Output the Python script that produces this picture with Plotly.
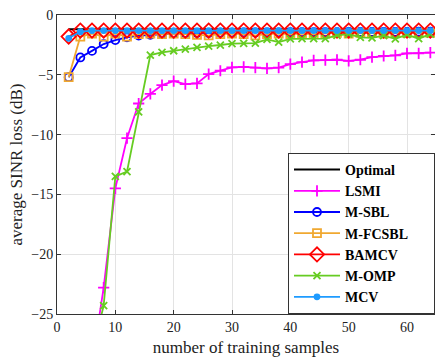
import plotly.graph_objects as go

x = list(range(2, 66, 2))  # 2..64

optimal = [-1.2] * len(x)
lsmi = [-40, -35, -29.2, -22.8, -14.5, -10.3, -7.4, -6.6, -5.86, -5.53, -5.78, -5.72, -4.94, -4.66,
        -4.38, -4.33, -4.4, -4.47, -4.4, -4.1, -3.94, -3.8, -3.77, -3.74, -3.83, -3.74, -3.52,
        -3.43, -3.38, -3.21, -3.21, -3.15]
msbl = [-5.2, -3.55, -3.0, -2.43, -2.1, -1.87, -1.72, -1.65, -1.6, -1.55, -1.52, -1.5, -1.5, -1.48,
        -1.47, -1.46, -1.46, -1.45, -1.45, -1.44, -1.44, -1.43, -1.43, -1.43, -1.42, -1.42, -1.42,
        -1.41, -1.41, -1.41, -1.4, -1.4]
mfcsbl = [-5.2, -1.8, -1.55, -1.8, -1.55, -1.8, -1.6, -1.55, -1.6, -1.55, -1.6, -1.65, -1.7, -1.6,
          -1.55, -1.6, -1.7, -1.6, -1.55, -1.6, -1.55, -1.6, -1.55, -1.5, -1.55, -1.5, -1.5,
          -1.55, -1.5, -1.5, -1.5, -1.5]
bamcv = [-1.8] + [-1.3] * (len(x) - 1)
momp = [-36, -32, -28.3, -24.3, -13.5, -13.1, -8.1, -3.35, -3.13, -2.99, -2.85, -2.71, -2.6, -2.51,
        -2.4, -2.37, -2.35, -2.04, -2.26, -2.0, -1.98, -1.98, -1.98, -1.7, -1.6, -1.87, -1.92,
        -1.73, -2.0, -1.65, -1.98, -1.6]
mcv = [-1.95, -1.4] + [-1.3] * (len(x) - 2)

series = [
    ("Optimal", optimal, "#000000", None, 0),
    ("LSMI", lsmi, "#FF00FF", "cross-thin-open", 8),
    ("M-SBL", msbl, "#0000FF", "circle-open", 8),
    ("M-FCSBL", mfcsbl, "#F0A830", "square-open", 8),
    ("BAMCV", bamcv, "#FF0000", "diamond-open", 11),
    ("M-OMP", momp, "#66CC22", "x-thin-open", 7),
    ("MCV", mcv, "#1E9BFF", "circle", 5),
]

PAD = "\u00a0" * 6  # trailing space to widen the legend box

fig = go.Figure()
for name, y, color, sym, size in series:
    if sym is None:
        fig.add_trace(go.Scatter(x=x, y=y, name=name + PAD, mode="lines",
                                 line=dict(color=color, width=2)))
    else:
        fig.add_trace(go.Scatter(x=x, y=y, name=name + PAD, mode="lines+markers",
                                 line=dict(color=color, width=1.8),
                                 marker=dict(symbol=sym, size=size, color=color,
                                             line=dict(color=color, width=1.8))))

font = dict(family="Liberation Serif, Times New Roman, serif", color="#222222", size=14)
fig.update_layout(
    width=435, height=358,
    margin=dict(l=57, r=0, t=15, b=44),
    paper_bgcolor="white", plot_bgcolor="white",
    font=font,
    showlegend=True,
    legend=dict(x=1, y=0, xanchor="right", yanchor="bottom",
                bgcolor="white", bordercolor="#333333", borderwidth=1,
                font=dict(family="Liberation Serif, serif", size=14, color="black", weight="bold"),
                tracegroupgap=0, itemwidth=46, traceorder="normal"),
)
fig.update_xaxes(range=[0, 64.8], tickvals=[0, 10, 20, 30, 40, 50, 60],
                 showgrid=True, gridcolor="#E3E3E3", gridwidth=1,
                 showline=True, linecolor="#333333", linewidth=1, mirror="ticks",
                 ticks="inside", ticklen=4, tickcolor="#333333",
                 zeroline=False,
                 title=dict(text="number of training samples", standoff=7),
                 tickfont=dict(size=14))
fig.update_yaxes(range=[-25, 0], tickvals=[0, -5, -10, -15, -20, -25],
                 showgrid=True, gridcolor="#E3E3E3", gridwidth=1,
                 showline=True, linecolor="#333333", linewidth=1, mirror="ticks",
                 ticks="inside", ticklen=4, tickcolor="#333333",
                 zeroline=False,
                 title=dict(text="average SINR loss (dB)", standoff=4),
                 tickfont=dict(size=14))

fig.write_html("out.html")
